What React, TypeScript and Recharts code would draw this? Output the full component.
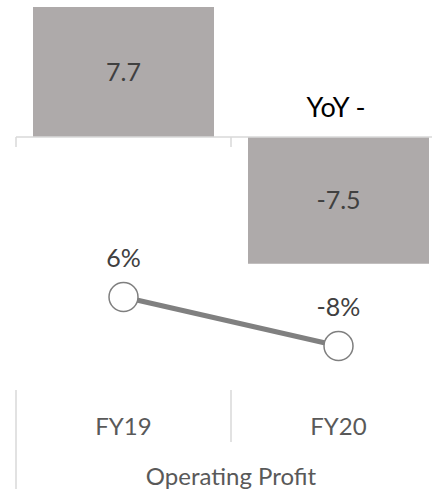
import React from 'react';
import {
  ComposedChart, Bar, Line, XAxis, YAxis, LabelList, ReferenceLine, Label
} from 'recharts';

const categories = ['FY19', 'FY20'];
const profit = [7.7, -7.5];
const yoyPct = [6, -8];

const data = categories.map((name, i) => ({ name, profit: profit[i], yoy: yoyPct[i] }));

const CHART_W = 446;
const CHART_H = 489;
const LEFT = 16;
const PLOT_W = CHART_W - LEFT;
const AXIS_H = 99;

const GRID = '#d9d9d9';
const BAR = '#aeaaaa';
const LINE = '#7f7f7f';

// horizontal zero axis with small category separator ticks
const ZeroAxis = (props: any) => {
  const { x1, y1, x2, y2 } = props;
  const band = (x2 - x1) / categories.length;
  return (
    <g>
      <line x1={x1} y1={y1} x2={x2} y2={y2} stroke={GRID} strokeWidth={1.5} />
      {categories.map((c, i) => (
        <line key={c} x1={x1 + i * band} x2={x1 + i * band} y1={y1} y2={y1 + 10} stroke={GRID} strokeWidth={1.5} />
      ))}
    </g>
  );
};

const CategoryTick = (props: any) => {
  const { x, y, payload, index } = props;
  const band = PLOT_W / categories.length;
  const left = x - band / 2;
  return (
    <g>
      <line x1={left} x2={left} y1={y} y2={index === 0 ? y + AXIS_H : y + 52} stroke={GRID} strokeWidth={1.5} />
      <text x={x} y={y + 45} textAnchor="middle" fill="#595959" fontSize={24}>{payload.value}</text>
    </g>
  );
};

const Dot = (props: any) => {
  const { cx, cy } = props;
  return <circle cx={cx} cy={cy} r={14.5} fill="#fff" stroke={LINE} strokeWidth={1.5} />;
};

export default function App() {
  return (
    <div style={{ position: 'absolute', left: 0, top: 0, width: 432, height: 489, overflow: 'hidden', fontFamily: 'Lato', background: '#fff' }}>
      <ComposedChart width={CHART_W} height={CHART_H} data={data} margin={{ top: 0, right: 0, left: LEFT, bottom: 0 }} barCategoryGap={17}>
        <XAxis dataKey="name" height={AXIS_H} interval={0} tickLine={false} axisLine={false} tickSize={0} tickMargin={0} tick={<CategoryTick />}>
          <Label value="Operating Profit" position="insideBottom" offset={4} fill="#595959" fontSize={24} />
        </XAxis>
        <YAxis yAxisId="bar" hide domain={[-14.97, 8.107]} allowDataOverflow />
        <YAxis yAxisId="yoy" hide domain={[-20.571, 90.857]} allowDataOverflow />
        <Bar yAxisId="bar" dataKey="profit" fill={BAR} isAnimationActive={false}>
          <LabelList dataKey="profit" position="center" fill="#404040" fontSize={25} />
        </Bar>
        <ReferenceLine yAxisId="bar" y={0} shape={<ZeroAxis />} />
        <Line yAxisId="yoy" dataKey="yoy" stroke="#808080" strokeWidth={5} dot={<Dot />} activeDot={false} isAnimationActive={false}>
          <LabelList dataKey="yoy" position="top" offset={30} fill="#404040" fontSize={25} formatter={(v: any) => `${v}%`} />
        </Line>
      </ComposedChart>
      <svg width={432} height={489} style={{ position: 'absolute', left: 0, top: 0, pointerEvents: 'none' }}>
        <text x={336} y={117} textAnchor="middle" fill="#000" fontSize={27}>YoY -</text>
      </svg>
    </div>
  );
}
